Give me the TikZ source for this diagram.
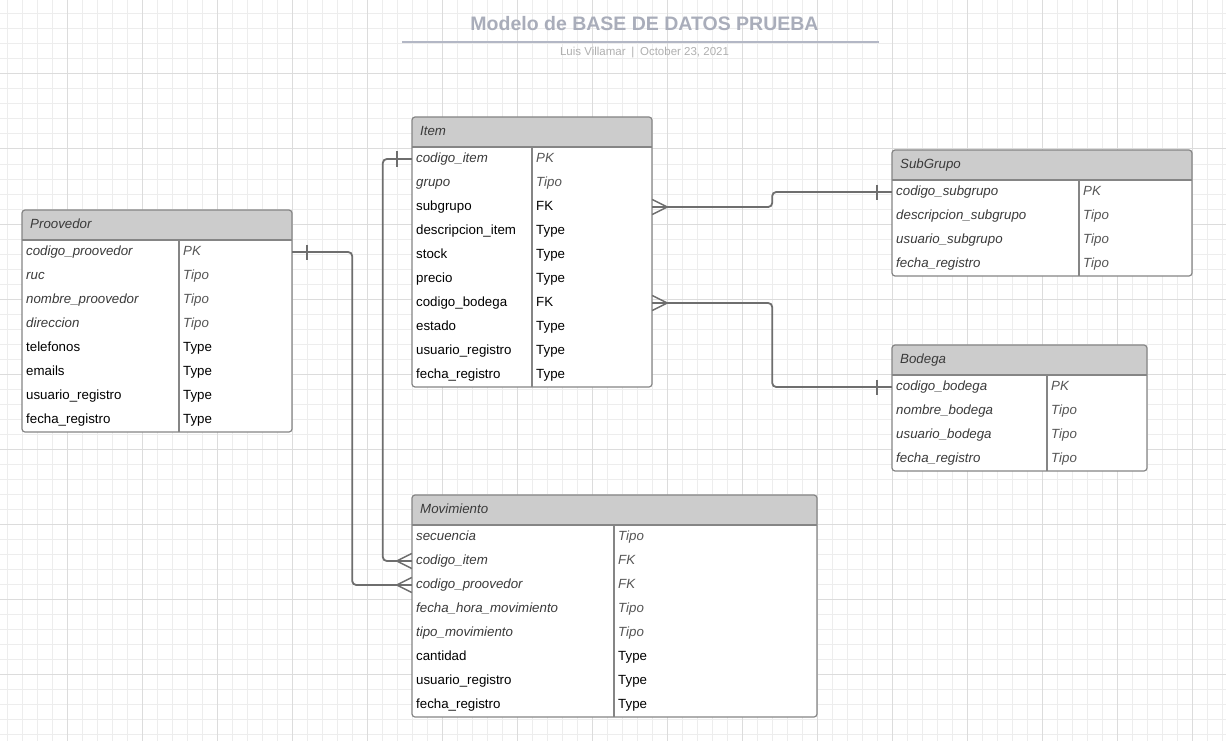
\documentclass[tikz,border=0pt]{standalone}
\usepackage{fontspec}
\setmainfont{Liberation Sans}
\definecolor{gridminor}{HTML}{EDEDED}
\definecolor{gridmajor}{HTML}{DCDCDC}
\definecolor{headfill}{HTML}{CCCCCC}
\definecolor{tabline}{HTML}{858585}
\definecolor{connc}{HTML}{6E6E6E}
\definecolor{itname}{HTML}{3A3A3A}
\definecolor{ittype}{HTML}{555555}
\definecolor{titlec}{HTML}{A9ADBA}
\definecolor{titleln}{HTML}{B3B7C5}
\definecolor{subc}{HTML}{B0B0B0}
\tikzset{
  gmin/.style={draw=gridminor, line width=1pt},
  gmaj/.style={draw=gridmajor, line width=1pt},
  tabborder/.style={draw=tabline, line width=1.2pt},
  rowbox/.style={draw=none, inner sep=0pt, minimum height=24pt},
  cellit/.style={anchor=base west, inner sep=0pt, font=\fontsize{13.3}{15}\selectfont\itshape, text=itname},
  cellrm/.style={anchor=base west, inner sep=0pt, font=\fontsize{13.3}{15}\selectfont, text=black},
  typeit/.style={anchor=base west, inner sep=0pt, font=\fontsize{13.3}{15}\selectfont\itshape, text=ittype},
  typerm/.style={anchor=base west, inner sep=0pt, font=\fontsize{13.3}{15}\selectfont, text=black},
  headtext/.style={anchor=base west, inner sep=0pt, font=\fontsize{13.3}{15}\selectfont\itshape, text=itname},
  titletext/.style={inner sep=0pt, font=\fontsize{19.5}{23}\selectfont\bfseries, text=titlec},
  subtext/.style={inner sep=0pt, font=\fontsize{11.5}{13}\selectfont, text=subc},
  conn/.style={draw=connc, line width=1.8pt, rounded corners=4pt},
  connend/.style={draw=connc, line width=1.5pt},
}
% #1 name, #2 x0, #3 x1, #4 xdiv, #5 top, #6 nrows, #7 title, #8 rows
\newcommand{\erdtab}[8]{%
  \pgfmathsetmacro{\hb}{#5+30}%
  \pgfmathsetmacro{\yb}{#5+30+24*#6}%
  \fill[white, rounded corners=3pt] (#2,#5) rectangle (#3,\yb);
  \fill[headfill, rounded corners=3pt] (#2,\hb) -- (#2,#5) -- (#3,#5) [sharp corners] -- (#3,\hb) -- cycle;
  \draw[tabborder] (#2,\hb) -- (#3,\hb);
  \draw[tabborder] (#4,\hb) -- (#4,\yb);
  \draw[tabborder, rounded corners=3pt] (#2,#5) rectangle (#3,\yb);
  \node[headtext] (#1-title) at (#2+8,#5+18.5) {#7};
  \foreach \rn/\rt/\rs [count=\k] in {#8} {
    \node[rowbox, minimum width={#3-#2}] (#1-\k) at ({(#2+#3)/2},{\hb+24*\k-12}) {};
    \node[cell\rs] (#1-n\k) at (#2+4,{\hb+24*\k-9}) {\rn};
    \node[type\rs] (#1-t\k) at (#4+4,{\hb+24*\k-9}) {\rt};
  }
}
\begin{document}
\begin{tikzpicture}[x=1pt, y=-1pt]
\useasboundingbox (0,0) rectangle (1226,741);
\fill[white] (0,0) rectangle (1226,741);
% grid
\foreach \gx in {7,22,...,1222} \draw[gmin] (\gx,0) -- (\gx,741);
\foreach \gy in {14,29,...,740} \draw[gmin] (0,\gy) -- (1226,\gy);
\foreach \gx in {67,142,...,1200} \draw[gmaj] (\gx,0) -- (\gx,741);
\foreach \gy in {74,149,...,740} \draw[gmaj] (0,\gy) -- (1226,\gy);
% title
\node[titletext] (title) at (644.5,24) {Modelo de BASE DE DATOS PRUEBA};
\draw[draw=titleln, line width=2pt] (402,42) -- (879,42);
\node[subtext] (subtitle) at (644.5,53) {Luis Villamar\enspace|\enspace October 23, 2021};
% tables
\erdtab{prov}{22}{292}{179}{210}{8}{Proovedor}{codigo\_proovedor/PK/it, ruc/Tipo/it, nombre\_proovedor/Tipo/it, direccion/Tipo/it, telefonos/Type/rm, emails/Type/rm, usuario\_registro/Type/rm, fecha\_registro/Type/rm}
\erdtab{item}{412}{652}{532}{117}{10}{Item}{codigo\_item/PK/it, grupo/Tipo/it, subgrupo/FK/rm, descripcion\_item/Type/rm, stock/Type/rm, precio/Type/rm, codigo\_bodega/FK/rm, estado/Type/rm, usuario\_registro/Type/rm, fecha\_registro/Type/rm}
\erdtab{sub}{892}{1192}{1079}{150}{4}{SubGrupo}{codigo\_subgrupo/PK/it, descripcion\_subgrupo/Tipo/it, usuario\_subgrupo/Tipo/it, fecha\_registro/Tipo/it}
\erdtab{bod}{892}{1147}{1047}{345}{4}{Bodega}{codigo\_bodega/PK/it, nombre\_bodega/Tipo/it, usuario\_bodega/Tipo/it, fecha\_registro/Tipo/it}
\erdtab{mov}{412}{817}{614}{495}{8}{Movimiento}{secuencia/Tipo/it, codigo\_item/FK/it, codigo\_proovedor/FK/it, fecha\_hora\_movimiento/Tipo/it, tipo\_movimiento/Tipo/it, cantidad/Type/rm, usuario\_registro/Type/rm, fecha\_registro/Type/rm}
% connectors
\draw[conn] (prov-1.east) -- ++(60,0) |- (mov-3.west);
\draw[conn] (item-1.west) -- ++(-29,0) |- (mov-2.west);
\draw[conn] (item-3.east) -- ++(120,0) |- (sub-1.west);
\draw[conn] (item-7.east) -- ++(120,0) |- (bod-1.west);
% one-bars
\draw[connend] (prov-1.east) ++(15,-7.5) -- ++(0,15);
\draw[connend] (item-1.west) ++(-15,-7.5) -- ++(0,15);
\draw[connend] (sub-1.west) ++(-15,-7.5) -- ++(0,15);
\draw[connend] (bod-1.west) ++(-15,-7.5) -- ++(0,15);
% crow's feet
\draw[connend] (mov-2.west) ++(0,-7.5) -- ++(-15,7.5) -- ++(15,7.5);
\draw[connend] (mov-3.west) ++(0,-7.5) -- ++(-15,7.5) -- ++(15,7.5);
\draw[connend] (item-3.east) ++(0,-7.5) -- ++(15,7.5) -- ++(-15,7.5);
\draw[connend] (item-7.east) ++(0,-7.5) -- ++(15,7.5) -- ++(-15,7.5);
\end{tikzpicture}
\end{document}
